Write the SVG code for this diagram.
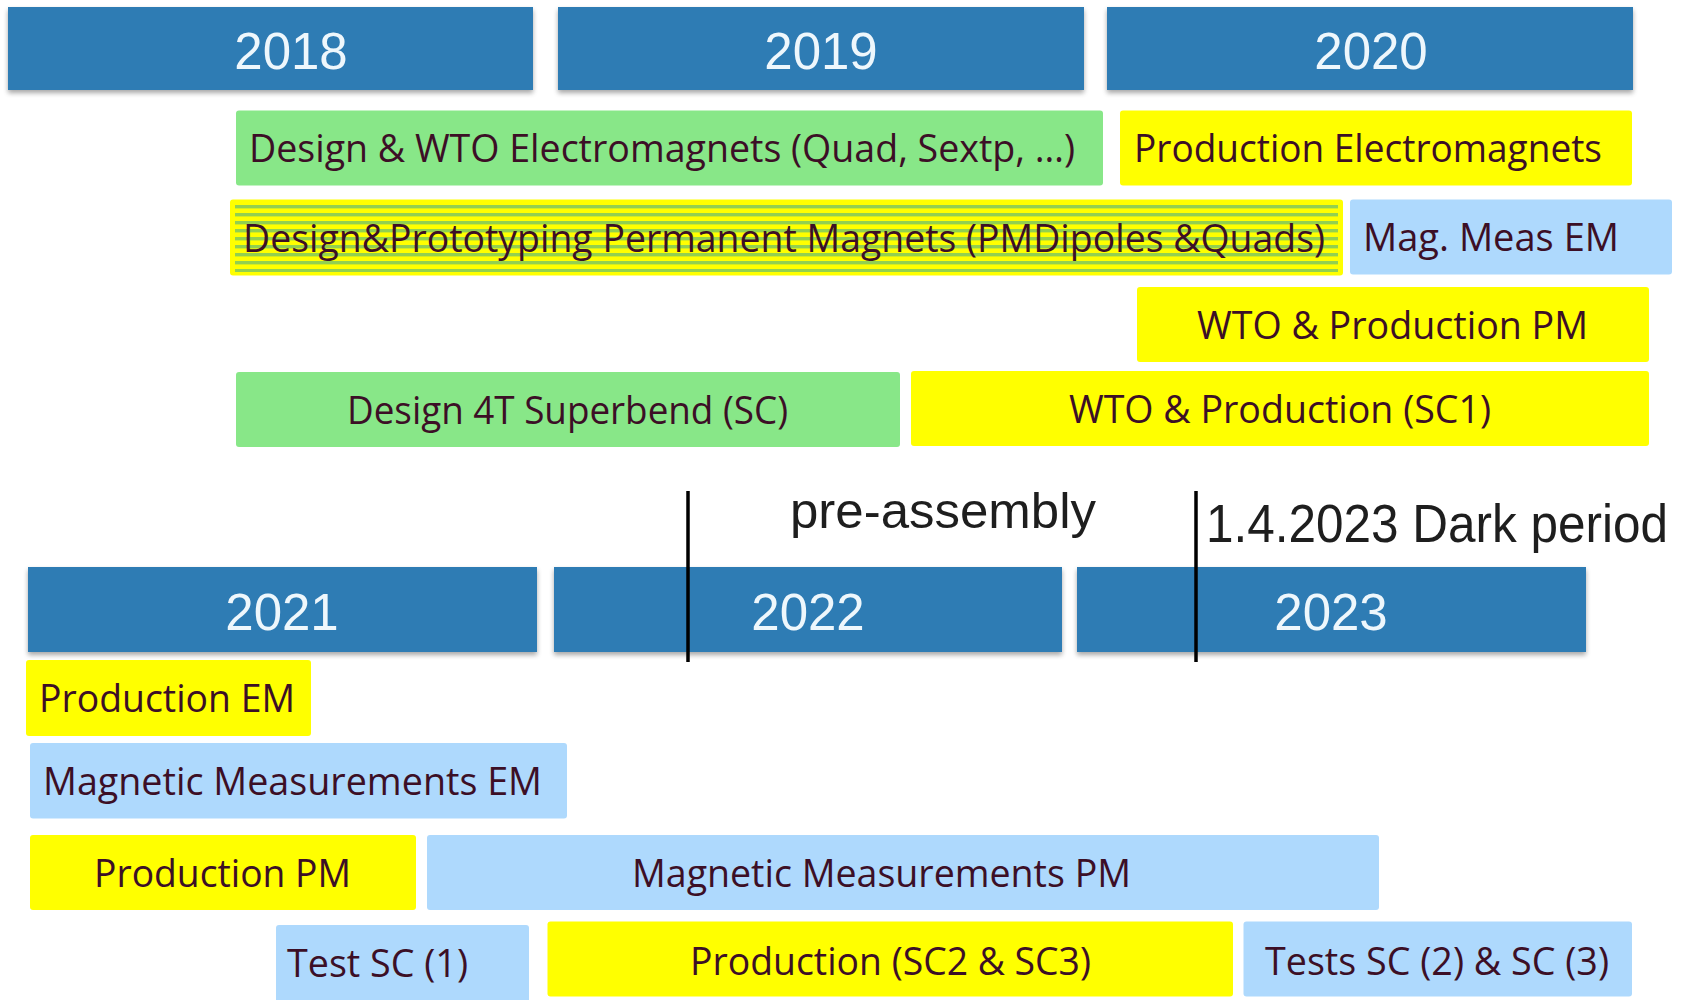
<svg xmlns="http://www.w3.org/2000/svg" width="1700" height="1000" viewBox="0 0 1700 1000">
  <style>
    .year { fill: #2e7bb4; }
    .ytxt { font-family: "Liberation Sans", Arial, sans-serif; font-size: 51px; fill: #eef7fc; text-anchor: middle; }
    .lbl { font-family: "Open Sans", "Noto Sans", sans-serif; font-size: 38px; fill: #3c0f26; }
    .green { fill: #88e788; }
    .yellow { fill: #ffff00; }
    .blue { fill: #aed9fd; }
    .note { font-family: "Liberation Sans", Arial, sans-serif; fill: #1e1e1e; }
    .mark { stroke: #000; stroke-width: 3.5; }
  </style>
  <defs>
    <filter id="barShadow" x="-5%" y="-20%" width="110%" height="150%">
      <feGaussianBlur in="SourceAlpha" stdDeviation="2.5"/>
      <feOffset dy="3" result="b"/>
      <feComponentTransfer><feFuncA type="linear" slope="0.35"/></feComponentTransfer>
      <feMerge><feMergeNode/><feMergeNode in="SourceGraphic"/></feMerge>
    </filter>
    <!-- horizontal green/yellow hatching for the prototyping bar -->
    <pattern id="stripes" x="0" y="205" width="20" height="8" patternUnits="userSpaceOnUse">
      <rect width="20" height="8" fill="#ffff00"/>
      <rect width="20" height="3.4" fill="#92d050"/>
    </pattern>
  </defs>

  <rect width="1700" height="1000" fill="#ffffff"/>

  <!-- Upper timeline -->
  <g id="y2018" filter="url(#barShadow)"><rect class="year" x="8" y="7" width="525" height="83"/><text class="ytxt" x="291" y="69">2018</text></g>
  <g id="y2019" filter="url(#barShadow)"><rect class="year" x="558" y="7" width="526" height="83"/><text class="ytxt" x="821" y="69">2019</text></g>
  <g id="y2020" filter="url(#barShadow)"><rect class="year" x="1107" y="7" width="526" height="83"/><text class="ytxt" x="1371" y="69">2020</text></g>

  <g id="designWtoEm"><rect class="green" x="236" y="110.5" width="867" height="75" rx="3"/><text class="lbl" x="249" y="162" textLength="826" lengthAdjust="spacingAndGlyphs">Design &amp; WTO Electromagnets (Quad, Sextp, …)</text></g>
  <g id="prodElectromagnets"><rect class="yellow" x="1120" y="110.5" width="512" height="75" rx="3"/><text class="lbl" x="1134" y="162" textLength="468" lengthAdjust="spacingAndGlyphs">Production Electromagnets</text></g>

  <g id="designPm"><rect class="yellow" x="230" y="199.5" width="1113" height="76" rx="3"/><rect x="235" y="205" width="1103" height="67" fill="url(#stripes)"/><text class="lbl" x="243" y="252" textLength="1082" lengthAdjust="spacingAndGlyphs">Design&amp;Prototyping Permanent Magnets (PMDipoles &amp;Quads)</text></g>
  <g id="magMeasEm"><rect class="blue" x="1350" y="199.5" width="322" height="75" rx="3"/><text class="lbl" x="1363" y="251" textLength="256" lengthAdjust="spacingAndGlyphs">Mag. Meas EM</text></g>

  <g id="wtoProdPm"><rect class="yellow" x="1137" y="287" width="512" height="75" rx="3"/><text class="lbl" x="1197" y="339" textLength="391" lengthAdjust="spacingAndGlyphs">WTO &amp; Production PM</text></g>

  <g id="designSuperbend"><rect class="green" x="236" y="372" width="664" height="75" rx="3"/><text class="lbl" x="347" y="424" textLength="441" lengthAdjust="spacingAndGlyphs">Design 4T Superbend (SC)</text></g>
  <g id="wtoProdSc1"><rect class="yellow" x="911" y="371" width="738" height="75" rx="3"/><text class="lbl" x="1069" y="423" textLength="422" lengthAdjust="spacingAndGlyphs">WTO &amp; Production (SC1)</text></g>

  <!-- Lower timeline -->
  <g id="y2021" filter="url(#barShadow)"><rect class="year" x="28" y="567" width="509" height="85"/><text class="ytxt" x="282" y="630">2021</text></g>
  <g id="y2022" filter="url(#barShadow)"><rect class="year" x="554" y="567" width="508" height="85"/><text class="ytxt" x="808" y="630">2022</text></g>
  <g id="y2023" filter="url(#barShadow)"><rect class="year" x="1077" y="567" width="509" height="85"/><text class="ytxt" x="1331" y="630">2023</text></g>

  <!-- Milestone markers -->
  <g id="milestones">
    <line class="mark" x1="688" y1="491" x2="688" y2="662"/>
    <line class="mark" x1="1196" y1="491" x2="1196" y2="662"/>
    <text class="note" x="790" y="528" font-size="50" textLength="306" lengthAdjust="spacingAndGlyphs">pre-assembly</text>
    <text class="note" x="1206" y="542" font-size="53" textLength="462" lengthAdjust="spacingAndGlyphs">1.4.2023 Dark period</text>
  </g>

  <g id="prodEm"><rect class="yellow" x="26" y="660" width="285" height="76" rx="3"/><text class="lbl" x="39" y="712" textLength="256" lengthAdjust="spacingAndGlyphs">Production EM</text></g>
  <g id="magMeasEmFull"><rect class="blue" x="30" y="743" width="537" height="75.5" rx="3"/><text class="lbl" x="43" y="795" textLength="499" lengthAdjust="spacingAndGlyphs">Magnetic Measurements EM</text></g>
  <g id="prodPm"><rect class="yellow" x="30" y="835" width="386" height="75" rx="3"/><text class="lbl" x="94" y="887" textLength="257" lengthAdjust="spacingAndGlyphs">Production PM</text></g>
  <g id="magMeasPm"><rect class="blue" x="427" y="835" width="952" height="75" rx="3"/><text class="lbl" x="632" y="887" textLength="499" lengthAdjust="spacingAndGlyphs">Magnetic Measurements PM</text></g>
  <g id="testSc1"><rect class="blue" x="276" y="925" width="253" height="78" rx="3"/><text class="lbl" x="287" y="977" textLength="181" lengthAdjust="spacingAndGlyphs">Test SC (1)</text></g>
  <g id="prodSc23"><rect class="yellow" x="547.5" y="921.5" width="685.5" height="75" rx="3"/><text class="lbl" x="690" y="975" textLength="401" lengthAdjust="spacingAndGlyphs">Production (SC2 &amp; SC3)</text></g>
  <g id="testsSc23"><rect class="blue" x="1243.5" y="921.5" width="388.5" height="75" rx="3"/><text class="lbl" x="1265" y="975" textLength="344" lengthAdjust="spacingAndGlyphs">Tests SC (2) &amp; SC (3)</text></g>

  <g id="connectors"/>
</svg>
